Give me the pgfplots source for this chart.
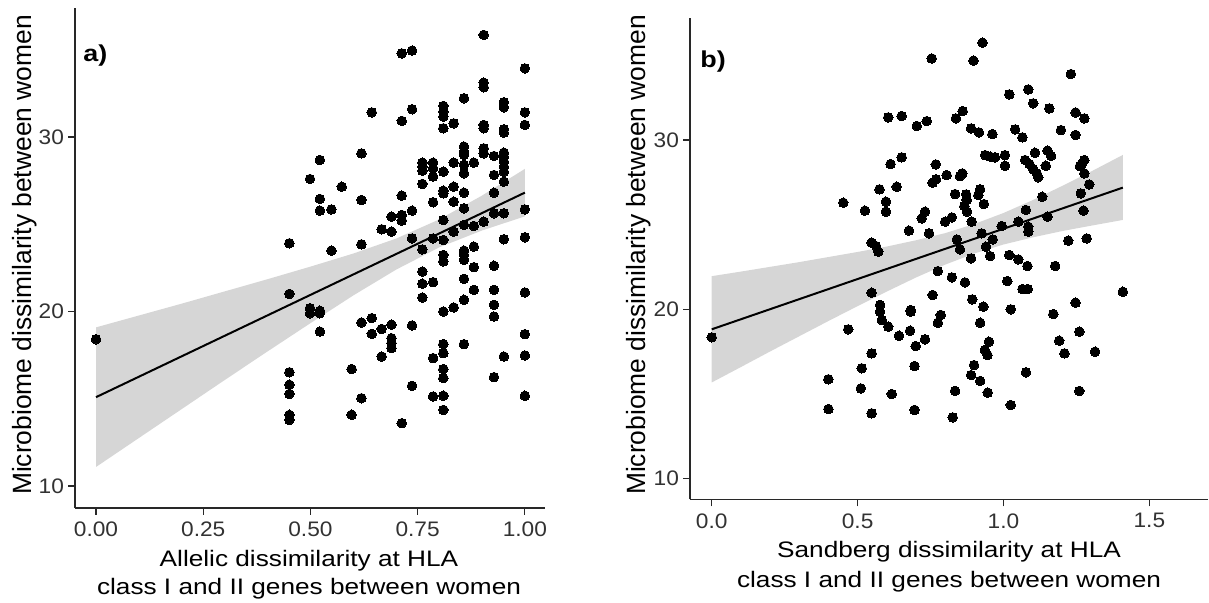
\documentclass[border=0pt]{standalone}
\usepackage{fontspec}
\setmainfont{Liberation Sans}[FakeStretch=1.17]
\newfontfamily\yfont{Liberation Sans}
\newfontfamily\tickfont{Liberation Sans}[FakeStretch=1.08]
\usepackage{pgfplots}
\pgfplotsset{compat=1.18}

\definecolor{axisgray}{RGB}{40,40,40}
\definecolor{tickgray}{RGB}{50,50,50}

\pgfplotsset{
  hlapanel/.style={
    anchor=south west,
    scale only axis,
    axis x line*=bottom,
    axis y line*=left,
    axis line style={axisgray, line width=0.7pt},
    tick style={axisgray, line width=0.6pt},
    major tick length=3.5pt,
    tick align=outside,
    ytick={10,20,30},
    yticklabels={10,20,30},
    ticklabel style={font=\tickfont\fontsize{10.5}{12}\selectfont, text=tickgray},
    yticklabel style={xshift=1.5pt},
    /pgf/number format/assume math mode=true,
    clip=false,
  },
  pts/.style={only marks, mark=*, mark size=2.4pt,
    mark options={fill=black, draw=black, line width=0pt}},
  band/.style={fill=black!40, fill opacity=0.4, draw=none},
  fit/.style={black, line width=1pt, no marks},
}

\begin{document}
\begin{tikzpicture}
\path[use as bounding box] (0,0) rectangle (604.5pt,301.5pt);

% panel a: allelic dissimilarity
\begin{axis}[hlapanel,
  at={(37.5pt,47.5pt)}, width=235pt, height=250pt,
  xmin=-0.049, xmax=1.047, ymin=8.74, ymax=37.39,
  xtick={0,0.25,0.5,0.75,1},
  xticklabels={0.00,0.25,0.50,0.75,1.00},
]
\addplot[pts] coordinates {
(0.904,35.85) (0.713,34.79) (0.737,34.95) (1.0,33.93) (0.904,33.11)
(0.904,32.85) (0.858,32.22) (0.951,31.99) (0.951,31.70) (0.81,31.78)
(0.81,31.45) (0.81,31.17) (0.643,31.41) (0.737,31.59) (1.0,31.41)
(0.713,30.92) (1.0,30.69) (0.834,30.78) (0.81,30.50) (0.904,30.69)
(0.904,30.50) (0.951,30.44) (0.951,30.25) (0.522,28.68) (0.619,29.06)
(0.858,29.45) (0.858,29.16) (0.858,28.97) (0.904,29.35) (0.904,29.06)
(0.928,28.91) (0.951,29.10) (0.951,28.87) (0.951,28.59) (0.951,28.30)
(0.951,28.01) (0.499,27.59) (0.573,27.15) (0.761,28.53) (0.761,28.30)
(0.761,28.07) (0.786,28.53) (0.786,28.20) (0.786,27.73) (0.81,28.01)
(0.834,28.53) (0.858,28.40) (0.858,27.92) (0.881,28.53) (0.928,27.82)
(0.951,27.44) (0.761,27.31) (0.81,26.92) (0.81,26.77) (0.834,27.15)
(0.858,26.81) (0.928,26.81) (0.522,26.45) (0.522,25.78) (0.549,25.85)
(0.619,26.39) (0.713,26.64) (0.786,26.26) (0.834,26.29) (0.858,25.91)
(1.0,25.85) (0.928,25.63) (0.951,25.63) (0.689,25.43) (0.713,25.53)
(0.713,25.21) (0.737,25.78) (0.666,24.71) (0.689,24.57) (0.81,25.24)
(0.834,24.57) (0.858,24.96) (0.881,24.90) (0.904,25.15) (0.737,24.19)
(0.761,23.56) (0.786,24.19) (0.81,24.10) (0.451,23.91) (0.549,23.49)
(0.619,23.85) (0.951,24.14) (1.0,24.25) (0.881,23.72) (0.81,23.24)
(0.858,23.24) (0.858,23.49) (0.81,22.87) (0.858,22.96)
(0.0,18.41) (0.451,21.01) (0.499,20.19) (0.499,19.90) (0.522,20.04)
(0.522,19.90) (0.522,18.85) (0.761,22.29) (0.761,21.59) (0.761,20.80)
(0.786,21.68) (0.81,20.00) (0.834,20.23) (0.858,21.87) (0.858,20.67)
(0.881,22.54) (0.881,21.24) (0.928,22.62) (0.928,21.24) (0.928,20.38)
(0.928,19.71) (1.0,21.09) (0.619,19.37) (0.643,19.62) (0.643,18.72)
(0.666,19.00) (0.666,17.42) (0.689,19.24) (0.689,18.47) (0.689,18.19)
(0.689,17.90) (0.737,19.20) (0.737,15.74) (0.81,18.13) (0.81,17.61)
(0.81,16.70) (0.81,16.18) (0.81,15.17) (0.81,14.36) (0.786,17.33)
(0.786,15.13) (0.858,18.13) (0.928,16.24) (0.951,17.42) (1.0,18.70)
(1.0,17.48) (1.0,15.17) (0.451,16.52) (0.451,15.80) (0.451,15.28)
(0.451,14.08) (0.451,13.79) (0.596,16.70) (0.596,14.08) (0.619,15.03)
(0.713,13.60)
};
% 95% confidence band of the linear fit
\addplot[band] coordinates {
(0,19.09) (0.1,19.77) (0.2,20.45) (0.3,21.15) (0.4,21.85) (0.5,22.57)
(0.6,23.32) (0.7,24.18) (0.8,25.27) (0.9,26.64) (1.0,28.17)
(1.0,25.45) (0.9,24.64) (0.8,23.67) (0.7,22.40) (0.6,20.92) (0.5,19.33)
(0.4,17.71) (0.3,16.07) (0.2,14.41) (0.1,12.75) (0,11.09)
} -- cycle;
\addplot[fit] coordinates {(0,15.09) (1.0,26.81)};
\end{axis}

% panel b: Sandberg dissimilarity
\begin{axis}[hlapanel,
  at={(345pt,51.85pt)}, width=259pt, height=240.65pt,
  xmin=-0.0744, xmax=1.701, ymin=8.78, ymax=37.21,
  xtick={0,0.5,1,1.5},
  xticklabels={0.0,0.5,1.0,1.5},
]
\addplot[pts] coordinates {
(0.928,35.75) (0.754,34.82) (0.897,34.69) (1.231,33.90) (1.085,32.99)
(1.020,32.70) (1.102,32.17) (1.157,31.87) (1.247,31.63) (1.277,31.28)
(0.605,31.34) (0.651,31.42) (0.703,30.83) (0.737,31.12) (0.837,31.28)
(0.860,31.71) (0.889,30.69) (0.916,30.45) (0.962,30.35) (1.040,30.63)
(1.065,30.16) (1.197,30.59) (1.247,30.30) (0.613,28.58) (0.651,28.98)
(0.937,29.11) (0.954,29.02) (0.971,28.98) (1.005,29.11) (1.005,28.48)
(1.108,29.25) (1.151,29.37) (1.163,29.06) (1.145,28.48) (1.074,28.82)
(1.089,28.58) (1.102,28.27) (1.114,28.03) (1.119,27.80) (1.277,28.82)
(1.268,28.58) (1.262,28.46) (1.277,28.03) (0.768,28.56) (0.805,27.93)
(0.859,28.03) (0.851,27.87) (0.769,27.68) (0.757,27.48) (0.575,27.09)
(0.634,27.24) (0.920,27.09) (0.914,26.75) (0.834,26.81) (0.872,26.79)
(0.874,26.46) (0.451,26.30) (0.525,25.83) (0.597,26.36) (0.597,25.77)
(0.933,26.22) (0.866,26.10) (0.875,25.77) (0.731,25.77) (0.720,25.37)
(0.800,25.18) (0.823,25.43) (1.133,26.65) (1.265,26.85) (1.294,27.38)
(1.274,25.83) (1.077,25.87) (1.151,25.47) (1.085,24.88) (1.085,24.59)
(1.051,25.18) (0.994,24.92) (0.891,25.18) (0.676,24.65) (0.745,24.49)
(0.925,24.49) (0.963,24.13) (0.840,24.13) (0.851,23.54) (0.940,23.70)
(0.548,23.94) (0.563,23.74) (0.571,23.41) (1.222,24.06) (1.285,24.19)
(0.889,23.01) (0.954,23.15) (1.020,23.21) (1.051,22.95) (1.082,22.56)
(1.177,22.56) (0.0,18.35) (0.548,20.98) (0.775,22.26) (0.823,21.89)
(0.868,21.59) (1.013,21.67) (1.065,21.20) (1.083,21.20) (1.409,21.04)
(1.247,20.39) (0.757,20.85) (0.893,20.59) (0.931,20.16) (1.025,20.00)
(1.171,19.72) (0.577,20.26) (0.577,19.86) (0.583,19.37) (0.605,18.98)
(0.682,19.96) (0.682,19.86) (0.680,18.74) (0.785,19.67) (0.775,19.21)
(0.920,19.21) (0.468,18.82) (0.642,18.44) (0.731,18.23) (0.699,17.83)
(0.950,18.09) (0.936,17.60) (0.945,17.30) (1.260,18.68) (1.191,18.15)
(1.209,17.40) (1.314,17.50) (0.548,17.40) (0.514,16.52) (0.695,16.65)
(0.899,16.71) (0.889,16.12) (1.077,16.28) (0.400,15.87) (0.400,14.11)
(0.511,15.33) (0.617,15.00) (0.920,15.77) (0.834,15.18) (0.946,15.08)
(1.260,15.18) (1.025,14.35) (0.548,13.86) (0.695,14.06) (0.826,13.62)
};
\addplot[band] coordinates {
(0,21.96) (0.1,22.23) (0.2,22.51) (0.3,22.79) (0.4,23.09) (0.5,23.39)
(0.6,23.71) (0.7,24.08) (0.8,24.50) (0.9,25.04) (1.0,25.69) (1.1,26.45)
(1.2,27.28) (1.3,28.14) (1.409,29.12)
(1.409,25.28) (1.3,24.94) (1.2,24.62) (1.1,24.25) (1.0,23.83) (0.9,23.30)
(0.8,22.64) (0.7,21.88) (0.6,21.05) (0.5,20.19) (0.4,19.31) (0.3,18.41)
(0.2,17.51) (0.1,16.59) (0,15.68)
} -- cycle;
\addplot[fit] coordinates {(0,18.82) (1.409,27.19)};
\end{axis}

% axis titles and panel tags
\node[rotate=90, anchor=base, font=\yfont\fontsize{13.2}{15}\selectfont]
  at (15.5pt,174pt) {Microbiome dissimilarity between women};
\node[rotate=90, anchor=base, font=\yfont\fontsize{13.2}{15}\selectfont]
  at (322.5pt,174pt) {Microbiome dissimilarity between women};
\node[anchor=base, font=\fontsize{11.2}{13}\selectfont] at (154.5pt,18.15pt)
  {Allelic dissimilarity at HLA};
\node[anchor=base, font=\fontsize{11.2}{13}\selectfont] at (154.5pt,4pt)
  {class I and II genes between women};
\node[anchor=base, font=\fontsize{11.2}{13}\selectfont] at (474.5pt,22.5pt)
  {Sandberg dissimilarity at HLA};
\node[anchor=base, font=\fontsize{11.2}{13}\selectfont] at (474.5pt,7.5pt)
  {class I and II genes between women};
\node[anchor=base west, inner sep=0pt, font=\bfseries\fontsize{11.5}{13}\selectfont]
  at (41.5pt,270.5pt) {a)};
\node[anchor=base west, inner sep=0pt, font=\bfseries\fontsize{11.5}{13}\selectfont]
  at (350pt,267.5pt) {b)};
\end{tikzpicture}
\end{document}
